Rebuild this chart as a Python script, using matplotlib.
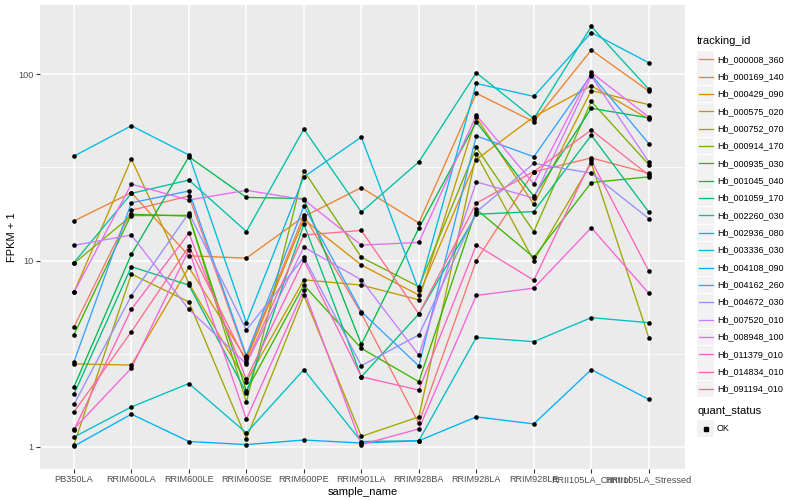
import matplotlib
matplotlib.use("Agg")
import matplotlib.pyplot as plt
from matplotlib.ticker import FixedLocator, NullFormatter
from matplotlib.lines import Line2D
from matplotlib.patches import Rectangle

plt.rcParams['font.family'] = ['Liberation Sans', 'DejaVu Sans']

samples = ["PB350LA", "RRIM600LA", "RRIM600LE", "RRIM600SE", "RRIM600PE",
           "RRIM901LA", "RRIM928BA", "RRIM928LA", "RRIM928LE",
           "RRII105LA_Control", "RRII105LA_Stressed"]

tracking_ids = ["Hb_000008_360", "Hb_000169_140", "Hb_000429_090", "Hb_000575_020",
                "Hb_000752_070", "Hb_000914_170", "Hb_000935_030", "Hb_001045_040",
                "Hb_001059_170", "Hb_002260_030", "Hb_002936_080", "Hb_003336_030",
                "Hb_004108_090", "Hb_004162_260", "Hb_004672_030", "Hb_007520_010",
                "Hb_008948_100", "Hb_011379_010", "Hb_014834_010", "Hb_091194_010"]

# FPKM + 1 per sample
hb_000008_360 = [4.4, 18.6, 22.2, 3.02, 17.5, 5.2, 1.34, 9.99, 29.9, 35.5, 29.4]
hb_000169_140 = [16.3, 23.1, 10.6, 10.3, 17.2, 24.6, 15.9, 78.8, 55.5, 134.5, 81.0]
hb_000429_090 = [2.79, 2.75, 9.2, 2.95, 16.6, 9.46, 6.53, 34.8, 59.0, 86.6, 57.3]
hb_000575_020 = [6.75, 35.0, 7.54, 2.24, 7.88, 7.38, 6.16, 58.5, 20.0, 81.6, 68.5]
hb_000752_070 = [1.03, 8.46, 6.0, 1.11, 6.5, 1.14, 1.45, 37.2, 9.97, 33.3, 3.86]
hb_000914_170 = [9.65, 17.4, 17.5, 1.74, 30.3, 10.4, 7.24, 40.4, 14.3, 71.3, 32.7]
hb_000935_030 = [4.0, 17.7, 17.3, 2.0, 7.38, 3.38, 2.24, 18.8, 10.4, 26.2, 28.1]
hb_001045_040 = [2.10, 10.8, 36.0, 21.8, 21.5, 3.55, 14.9, 55.4, 22.1, 65.5, 58.2]
hb_001059_170 = [1.92, 9.27, 7.38, 1.95, 15.7, 2.38, 5.17, 17.7, 18.3, 47.0, 18.2]
hb_002260_030 = [9.75, 22.9, 27.0, 14.3, 50.7, 18.2, 33.8, 101.6, 57.6, 180.0, 83.0]
hb_002936_080 = [1.13, 1.64, 2.19, 1.19, 2.6, 1.07, 1.08, 3.87, 3.67, 4.94, 4.64]
hb_003336_030 = [36.3, 52.8, 36.8, 4.64, 28.1, 45.9, 6.95, 89.0, 75.9, 167.0, 115.0]
hb_004108_090 = [1.01, 1.50, 1.07, 1.03, 1.09, 1.05, 1.08, 1.45, 1.33, 2.6, 1.8]
hb_004162_260 = [2.86, 20.4, 23.6, 3.09, 19.6, 5.31, 2.72, 46.6, 36.0, 99.1, 42.4]
hb_004672_030 = [1.69, 6.48, 18.0, 4.24, 10.4, 2.73, 3.99, 18.2, 33.2, 29.4, 16.8]
hb_007520_010 = [12.06, 13.7, 5.47, 2.79, 11.8, 7.88, 3.11, 26.4, 21.6, 97.6, 33.8]
hb_008948_100 = [6.75, 25.7, 21.1, 23.8, 21.2, 12.1, 12.5, 60.2, 25.8, 102.0, 58.8]
hb_011379_010 = [1.25, 2.65, 11.4, 1.41, 6.95, 1.03, 1.25, 6.5, 7.11, 15.0, 6.67]
hb_014834_010 = [1.23, 5.48, 14.0, 2.31, 10.05, 2.38, 2.02, 12.1, 7.84, 34.4, 8.79]
hb_091194_010 = [1.54, 4.15, 11.9, 2.84, 13.7, 14.5, 5.17, 20.3, 30.0, 50.1, 28.7]

series_values = [hb_000008_360, hb_000169_140, hb_000429_090, hb_000575_020,
                 hb_000752_070, hb_000914_170, hb_000935_030, hb_001045_040,
                 hb_001059_170, hb_002260_030, hb_002936_080, hb_003336_030,
                 hb_004108_090, hb_004162_260, hb_004672_030, hb_007520_010,
                 hb_008948_100, hb_011379_010, hb_014834_010, hb_091194_010]

colors = ["#F8766D", "#EA8331", "#D89000", "#C09B00", "#A3A500", "#7CAE00", "#39B600",
          "#00BB4E", "#00BF7D", "#00C1A3", "#00BFC4", "#00BAE0", "#00B0F6", "#35A2FF",
          "#9590FF", "#C77CFF", "#E76BF3", "#FA62DB", "#FF62BC", "#FF6C91"]

quant_status = ["OK"]

W, H = 800, 500
fig = plt.figure(figsize=(8, 5), dpi=100)
px_l, px_r, px_t, px_b = 40, 685, 5, 469
ax = fig.add_axes([px_l / W, 1 - px_b / H, (px_r - px_l) / W, (px_b - px_t) / H])
ax.set_facecolor("#EBEBEB")
for s in ax.spines.values():
    s.set_visible(False)

xs = list(range(len(samples)))
for vals, col in zip(series_values, colors):
    ax.plot(xs, vals, color=col, lw=0.95, zorder=3, solid_joinstyle='round')
for vals in series_values:
    ax.scatter(xs, vals, s=11, color="black", zorder=4, linewidths=0)

ax.set_yscale("log")
ax.set_ylim(0.762, 234.6)
ax.set_xlim(-0.59, 10.63)
ax.yaxis.set_major_locator(FixedLocator([1, 10, 100]))
ax.yaxis.set_minor_locator(FixedLocator([10 ** -0.5, 10 ** 0.5, 10 ** 1.5, 10 ** 2.5]))
ax.yaxis.set_minor_formatter(NullFormatter())
ax.set_yticklabels(["1", "10", "100"])
ax.set_xticks(xs)
ax.set_xticklabels(samples)
ax.grid(which="major", color="white", lw=1.1, zorder=1)
ax.grid(which="minor", axis="y", color="white", lw=0.55, zorder=1)
ax.set_axisbelow(True)
ax.tick_params(which="major", length=2.6, width=0.8, color="#333333",
               labelcolor="#4D4D4D", labelsize=6.6, pad=2)
ax.tick_params(which="minor", length=0)
ax.set_xlabel("sample_name", fontsize=8, color="black", labelpad=2)
ax.set_ylabel("FPKM + 1", fontsize=8, color="black", labelpad=1)

# legend: tracking_id
def fx(px):
    return px / W

def fy(py):
    return 1 - py / H

fig.text(fx(697), fy(40.5), "tracking_id", fontsize=8, va="center", ha="left")
y0, dy = 59.3, 17.35
for i, (name, col) in enumerate(zip(tracking_ids, colors)):
    yc = y0 + i * dy
    fig.add_artist(Rectangle((fx(697), fy(yc + 8.3)), 17 / W, 16.6 / H,
                             facecolor="#F2F2F2", edgecolor="none",
                             transform=fig.transFigure))
    fig.add_artist(Line2D([fx(698.5), fx(712.5)], [fy(yc), fy(yc)], color=col, lw=0.95,
                          transform=fig.transFigure))
    fig.text(fx(717), fy(yc), name, fontsize=6.5, va="center", ha="left")

# legend: quant_status
fig.text(fx(697), fy(411.5), "quant_status", fontsize=8, va="center", ha="left")
yq = 428.5
fig.add_artist(Rectangle((fx(697), fy(yq + 8.3)), 17 / W, 16.6 / H,
                         facecolor="#F2F2F2", edgecolor="none", transform=fig.transFigure))
fig.add_artist(Line2D([fx(705.5)], [fy(yq)], marker="s", markersize=2.8, color="black",
                      lw=0, transform=fig.transFigure))
fig.text(fx(717), fy(yq), quant_status[0], fontsize=6.5, va="center", ha="left")

fig.savefig("out.png", dpi=100)
